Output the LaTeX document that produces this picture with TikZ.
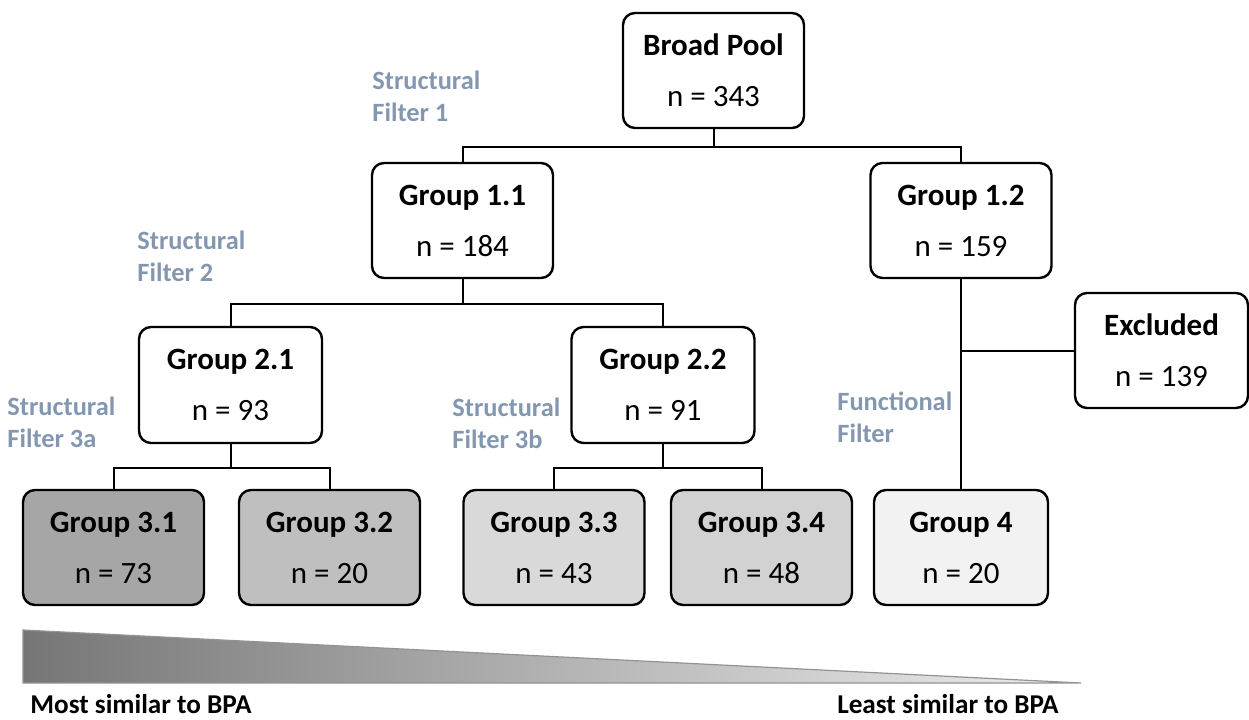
\documentclass[tikz,border=0pt]{standalone}
\usepackage{fontspec}
\setmainfont{Carlito}
\usepackage{xcolor}
\usepackage{tikz}
\usetikzlibrary{positioning, calc}
\definecolor{treeline}{HTML}{000000}
\definecolor{filterblue}{HTML}{8497B0}
\definecolor{grpA}{HTML}{A6A6A6}
\definecolor{grpB}{HTML}{BFBFBF}
\definecolor{grpC}{HTML}{D9D9D9}
\definecolor{grpD}{HTML}{D2D2D2}
\definecolor{grpE}{HTML}{F2F2F2}
\definecolor{simdark}{HTML}{767676}
\definecolor{simlight}{HTML}{EEEEEE}

\begin{document}
\begin{tikzpicture}[x=0.5pt, y=-0.5pt,
 group/.style={draw=treeline, line width=1.2pt, rounded corners=6pt, fill=white,
   minimum width=90.5pt, minimum height=57.5pt, inner sep=0pt, align=center,
   font=\fontsize{15.5}{25.5}\selectfont},
 filter/.style={anchor=base west, inner sep=0pt, align=left, text=filterblue,
   font=\fontsize{13.2}{16}\selectfont\bfseries},
 scale label/.style={inner sep=0pt, font=\fontsize{13.6}{16}\selectfont\bfseries},
 link/.style={draw=treeline, line width=1pt}]
\useasboundingbox (0,0) rectangle (1249,719);

% tree
\node[group](bp) at (713.5,70.5){\textbf{Broad Pool}\\n = 343};
\node[group](g11) at (462.5,220.5){\textbf{Group 1.1}\\n = 184};
\node[group](g12) at (961,220.5){\textbf{Group 1.2}\\n = 159};
\node[group, minimum width=91.5pt, minimum height=58pt](g21) at (230.5,385){\textbf{Group 2.1}\\n = 93};
\node[group, minimum width=91.5pt, minimum height=58pt](g22) at (663,385){\textbf{Group 2.2}\\n = 91};
\node[group, fill=grpA](g31) at (113.5,547.5){\textbf{Group 3.1}\\n = 73};
\node[group, fill=grpB](g32) at (329.5,547.5){\textbf{Group 3.2}\\n = 20};
\node[group, fill=grpC](g33) at (554,547.5){\textbf{Group 3.3}\\n = 43};
\node[group, fill=grpD](g34) at (761.5,547.5){\textbf{Group 3.4}\\n = 48};
\node[group, fill=grpE, minimum width=87pt](g4) at (961,547.5){\textbf{Group 4}\\n = 20};
\node[group, minimum width=86.5pt](excl) at (1161.5,350.5){\textbf{Excluded}\\n = 139};

\foreach \a/\b/\d in {bp/g11/18,bp/g12/18,g11/g21/25,g11/g22/25,
                      g21/g31/24,g21/g32/24,g22/g33/24,g22/g34/24}
  {\draw[link](\a.south)--++(0,\d)-|(\b.north);}
\draw[link](g12.south)--(g4.north);
\coordinate(cut) at (g12.south |- excl.west);
\draw[link](cut)--(excl.west);

% filter labels
\node[filter](f1) at (372,121){Structural\\Filter 1};
\node[filter](f2) at (137,281){Structural\\Filter 2};
\node[filter](f3a) at (7,447){Structural\\Filter 3a};
\node[filter](f3b) at (452,448){Structural\\Filter 3b};
\node[filter](ff) at (837,442){Functional\\Filter};

% similarity scale
\shadedraw[left color=simdark, right color=simlight, draw=gray!85, line width=0.6pt]
  (23,630)--(1081,683)--(23,683)--cycle;
\node[scale label, anchor=base west](most) at (30,713){Most similar to BPA};
\node[scale label, anchor=base east](least) at (1059,713){Least similar to BPA};

\end{tikzpicture}
\end{document}
